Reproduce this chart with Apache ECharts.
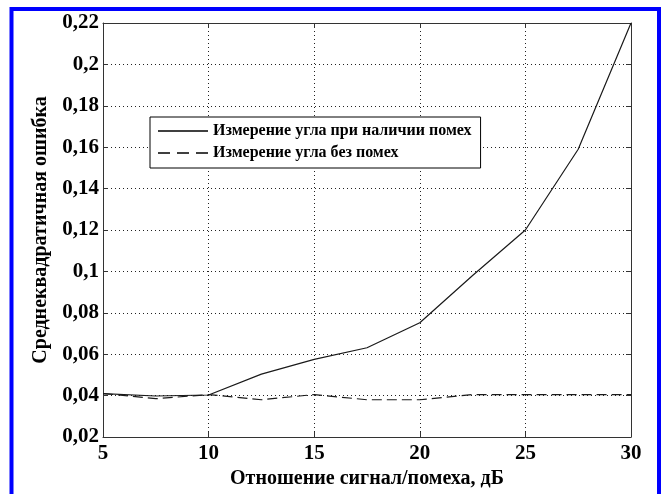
<!DOCTYPE html>
<html>
<head>
<meta charset="utf-8">
<script src="https://cdn.jsdelivr.net/npm/echarts@6/dist/echarts.min.js"></script>
<style>
html,body{margin:0;padding:0;background:#fff;}
#chart{width:664px;height:494px;}
</style>
</head>
<body>
<div id="chart"></div>
<script>
// Data
const snr = [5, 7.5, 10, 12.5, 15, 17.5, 20, 22.5, 25, 27.5, 30];
const withJamming = [0.041, 0.0398, 0.0403, 0.0504, 0.0575, 0.0631, 0.0752, 0.098, 0.12, 0.159, 0.22];
const withoutJamming = [0.041, 0.0385, 0.0405, 0.038, 0.0405, 0.038, 0.038, 0.0405, 0.0405, 0.0405, 0.0405];
const seriesNames = ['Измерение угла при наличии помех', 'Измерение угла без помех'];
const xAxisTitle = 'Отношение сигнал/помеха, дБ';
const yAxisTitle = 'Среднеквадратичная ошибка';

const FONT = '"Liberation Serif", "Times New Roman", serif';
const fmtY = v => String(+v.toFixed(2)).replace('.', ',');

const chart = echarts.init(document.getElementById('chart'), null, {renderer: 'canvas'});

const tickLabel = {fontFamily: FONT, fontWeight: 'bold', fontSize: 21, color: '#000'};
const axisLineStyle = {color: '#333', width: 1};
const gridLineStyle = {color: '#222', type: [1, 3], width: 1};

const solidIcon = 'path://M0,0H50V1.6H0Z';
const dashIcon = 'path://M0,0H12V1.6H0Z M19,0H31V1.6H19Z M38,0H50V1.6H38Z';

chart.setOption({
  backgroundColor: '#fff',
  animation: false,
  graphic: [{
    type: 'rect',
    shape: {x: 11.5, y: 9, width: 647.5, height: 500},
    style: {fill: 'none', stroke: '#0000ff', lineWidth: 4},
    silent: true, z: 100
  }],
  grid: {left: 103, right: 33, top: 23, bottom: 57, show: false},
  legend: {
    orient: 'vertical',
    left: 150, top: 117,
    padding: [6, 9, 7, 8],
    itemGap: 6,
    itemWidth: 50, itemHeight: 1.6,
    borderColor: '#000', borderWidth: 1,
    backgroundColor: '#fff',
    textStyle: {fontFamily: FONT, fontWeight: 'bold', fontSize: 16, lineHeight: 16, color: '#000'},
    data: [
      {name: seriesNames[0], icon: solidIcon, itemStyle: {color: '#000'}},
      {name: seriesNames[1], icon: dashIcon, itemStyle: {color: '#000'}}
    ]
  },
  xAxis: [{
    type: 'value', min: 5, max: 30, interval: 5, position: 'bottom',
    name: xAxisTitle, nameLocation: 'middle', nameGap: 27,
    nameTextStyle: {fontFamily: FONT, fontWeight: 'bold', fontSize: 20, color: '#000'},
    axisLine: {show: true, onZero: false, lineStyle: axisLineStyle},
    axisTick: {show: true, inside: true, length: 5, lineStyle: axisLineStyle},
    axisLabel: Object.assign({margin: 6}, tickLabel),
    splitLine: {show: true, lineStyle: gridLineStyle}
  }, {
    type: 'value', min: 5, max: 30, interval: 5, position: 'top',
    axisLine: {show: true, onZero: false, lineStyle: axisLineStyle},
    axisTick: {show: true, inside: true, length: 5, lineStyle: axisLineStyle},
    axisLabel: {show: false},
    splitLine: {show: false}
  }],
  yAxis: [{
    type: 'value', min: 0.02, max: 0.22, interval: 0.02, position: 'left',
    name: yAxisTitle, nameLocation: 'middle', nameGap: 52, nameRotate: 90,
    nameTextStyle: {fontFamily: FONT, fontWeight: 'bold', fontSize: 20, color: '#000'},
    axisLine: {show: true, onZero: false, lineStyle: axisLineStyle},
    axisTick: {show: true, inside: true, length: 5, lineStyle: axisLineStyle},
    axisLabel: Object.assign({margin: 4, formatter: fmtY}, tickLabel),
    splitLine: {show: true, lineStyle: gridLineStyle}
  }, {
    type: 'value', min: 0.02, max: 0.22, interval: 0.02, position: 'right',
    axisLine: {show: true, onZero: false, lineStyle: axisLineStyle},
    axisTick: {show: true, inside: true, length: 5, lineStyle: axisLineStyle},
    axisLabel: {show: false},
    splitLine: {show: false}
  }],
  series: [{
    name: seriesNames[0], type: 'line', symbol: 'none',
    lineStyle: {color: '#1a1a1a', width: 1.2, type: 'solid'},
    itemStyle: {color: '#1a1a1a'},
    data: snr.map((x, i) => [x, withJamming[i]]),
    z: 3
  }, {
    name: seriesNames[1], type: 'line', symbol: 'none',
    lineStyle: {color: '#1a1a1a', width: 1.2, type: [10, 5]},
    itemStyle: {color: '#1a1a1a'},
    data: snr.map((x, i) => [x, withoutJamming[i]]),
    z: 3
  }]
});
</script>
</body>
</html>
